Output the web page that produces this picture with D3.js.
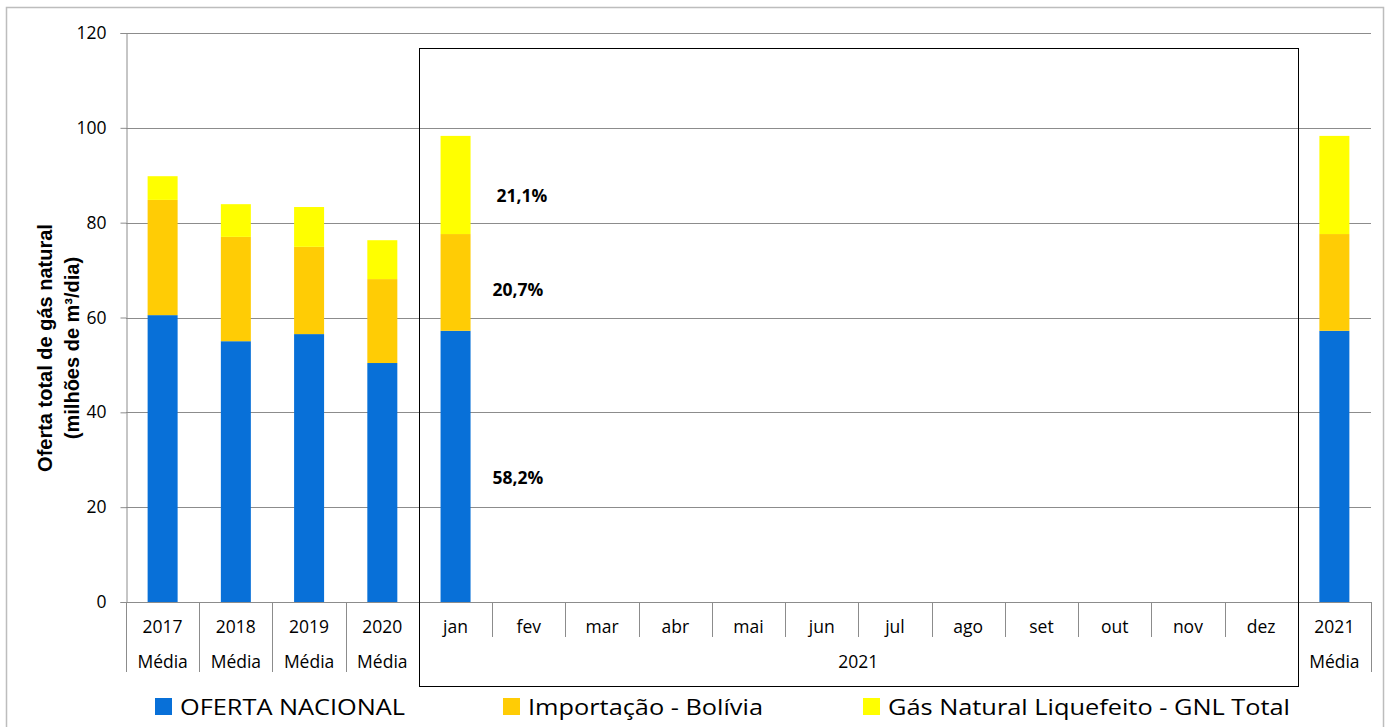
<!DOCTYPE html>
<html><head><meta charset="utf-8">
<script src="https://cdn.jsdelivr.net/npm/d3@7"></script>
<style>body{margin:0;background:#fff}svg{display:block;font-family:"Open Sans",sans-serif}</style>
</head><body><svg id="c" width="1389" height="727"></svg>
<script>
const categories = ["2017","2018","2019","2020","jan","fev","mar","abr","mai","jun","jul","ago","set","out","nov","dez","2021"];
const subLabels = ["Média","Média","Média","Média","","","","","","","","","","","","","Média"];
const ofertaNacional = [60.5,55.0,56.5,50.4,57.2,null,null,null,null,null,null,null,null,null,null,null,57.2];
const importacaoBolivia = [24.3,22.0,18.4,17.7,20.4,null,null,null,null,null,null,null,null,null,null,null,20.4];
const gnl = [5.0,6.9,8.4,8.2,20.7,null,null,null,null,null,null,null,null,null,null,null,20.7];
const seriesNames = ["OFERTA NACIONAL","Importação - Bolívia","Gás Natural Liquefeito - GNL Total"];
const seriesColors = ["#0870d8","#ffcc05","#ffff00"];
const yTicks = [0,20,40,60,80,100,120];
const janPercents = ["58,2%","20,7%","21,1%"];
const groupLabel = "2021";

const svg = d3.select("#c");
const L=126,R=1371,T=33,B=602;
const x = d3.scaleBand().domain(categories).range([L,R]).paddingInner(0).paddingOuter(0);
const y = d3.scaleLinear().domain([0,120]).range([B,T]);

// outer border
svg.append("rect").attr("x",6.5).attr("y",7.5).attr("width",1377).attr("height",730)
  .attr("fill","none").attr("stroke","#bdbdbd").attr("stroke-width",1.5);

// gridlines
svg.append("g").selectAll("line").data(yTicks.filter(d=>d>0)).join("line")
  .attr("x1",L).attr("x2",R).attr("y1",d=>Math.round(y(d))+0.5).attr("y2",d=>Math.round(y(d))+0.5)
  .attr("stroke","#8c8c8c").attr("stroke-width",1);

// y axis
const ya = svg.append("g").attr("transform",`translate(${L+0.5},0)`)
  .call(d3.axisLeft(y).tickValues(yTicks).tickSize(6).tickPadding(14).tickFormat(d3.format("d")));
ya.select(".domain").attr("stroke","#8c8c8c");
ya.selectAll(".tick line").attr("stroke","#8c8c8c");
ya.selectAll(".tick text").attr("font-size",17.5).attr("fill","#000").attr("font-family","Open Sans");

// stacked bars
const stackData = categories.map((c,i)=>({cat:c,a:ofertaNacional[i],b:importacaoBolivia[i],c2:gnl[i]}));
const stack = d3.stack().keys(["a","b","c2"]).value((d,k)=>d[k]==null?0:d[k]);
const layers = stack(stackData.filter(d=>d.a!=null));
const bw = 30;
svg.append("g").selectAll("g").data(layers).join("g").attr("fill",(d,i)=>seriesColors[i])
  .selectAll("rect").data(d=>d).join("rect")
  .attr("x",d=>x(d.data.cat)+x.bandwidth()/2-bw/2).attr("width",bw)
  .attr("y",d=>y(d[1])).attr("height",d=>y(d[0])-y(d[1]));

// x axis baseline
svg.append("line").attr("x1",L).attr("x2",R).attr("y1",B+0.5).attr("y2",B+0.5).attr("stroke","#8c8c8c");
// dividers
const edges = categories.map(c=>x(c)).concat([R]);
svg.append("g").selectAll("line").data(edges).join("line")
  .attr("x1",d=>Math.round(d)+0.5).attr("x2",d=>Math.round(d)+0.5).attr("y1",B)
  .attr("y2",(d,i)=>{const isLong = i<=4 || i>=16; return isLong?672:637;})
  .attr("stroke","#8c8c8c");
// category labels
svg.append("g").selectAll("text").data(categories).join("text")
  .attr("x",d=>x(d)+x.bandwidth()/2).attr("y",633).attr("text-anchor","middle")
  .attr("font-size",17.5).attr("fill","#000").text(d=>d);
svg.append("g").selectAll("text").data(categories.map((c,i)=>({c,s:subLabels[i]})).filter(d=>d.s)).join("text")
  .attr("x",d=>x(d.c)+x.bandwidth()/2).attr("y",668).attr("text-anchor","middle")
  .attr("font-size",17.5).attr("fill","#000").text(d=>d.s);
svg.append("text").attr("x",(x("jan")+x("dez")+x.bandwidth())/2).attr("y",668).attr("text-anchor","middle")
  .attr("font-size",17.5).attr("fill","#000").text(groupLabel);

// 2021 box
svg.append("rect").attr("x",Math.round(x("jan"))+0.5).attr("y",48.5)
  .attr("width",Math.round(x("dez")+x.bandwidth())-Math.round(x("jan"))).attr("height",638)
  .attr("fill","none").attr("stroke","#000").attr("stroke-width",1);

// percentage labels for jan
svg.append("g").selectAll("text").data(janPercents).join("text")
  .attr("x",(d,i)=>i===2?522:518).attr("y",(d,i)=>[484,296,202][i])
  .attr("text-anchor","middle").attr("font-size",17.5).attr("font-weight","bold").attr("fill","#000").text(d=>d);

// y title
const yt = svg.append("text").attr("transform","translate(52,348) rotate(-90)")
  .attr("text-anchor","middle").attr("font-family","'Liberation Sans Narrow','Liberation Sans',sans-serif")
  .attr("font-weight","bold").attr("font-size",20).attr("fill","#000");
yt.append("tspan").attr("x",0).attr("dy",0).text("Oferta total  de gás natural");
yt.append("tspan").attr("x",0).attr("dy",27).text("(milhões de m³/dia)");

// legend
const legX = [155,503,863];
const legW = [225,235,402];
const lg = svg.append("g").selectAll("g").data(seriesNames).join("g")
  .attr("transform",(d,i)=>`translate(${legX[i]},698)`);
lg.append("rect").attr("width",17).attr("height",17).attr("fill",(d,i)=>seriesColors[i]);
lg.append("text").attr("x",25).attr("y",16.5).attr("font-size",22).attr("fill","#000")
  .attr("textLength",(d,i)=>legW[i]).attr("lengthAdjust","spacingAndGlyphs").text(d=>d);
</script></body></html>
